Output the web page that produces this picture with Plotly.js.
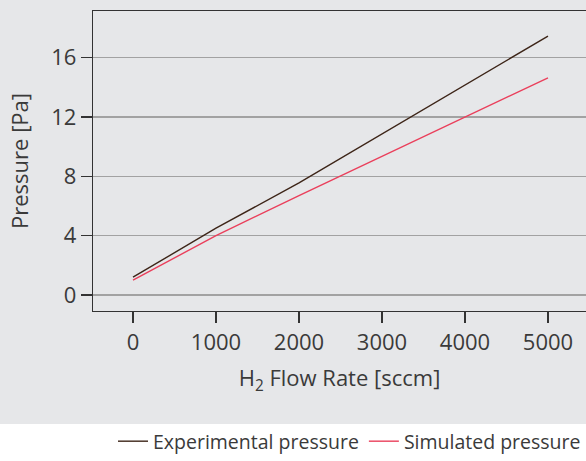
<!DOCTYPE html>
<html><head><meta charset="utf-8">
<script src="https://cdn.plot.ly/plotly-3.0.1.min.js"></script>
<style>html,body{margin:0;padding:0;background:#e6e7e9;}#c{width:586px;height:461px;}</style>
</head><body><div id="c"></div>
<script>
const flowRate = [0, 1000, 2000, 3000, 4000, 5000];
const experimental = [1.2, 4.5, 7.55, 10.85, 14.15, 17.45];
const simulated = [1.0, 4.0, 6.7, 9.35, 12.0, 14.64];
const xTicks = [0, 1000, 2000, 3000, 4000, 5000];
const yTicks = [0, 4, 8, 12, 16];

const fam = 'Open Sans, Noto Sans, sans-serif';
const font = {family: fam, size: 22, color: '#3a3a3a'};
const legFont = {family: fam, size: 19.5, color: '#3a3a3a'};
const xr = [-482, 5458], yr = [-1.08, 19.14];

const traces = [
  {x: flowRate, y: experimental, name: 'Experimental pressure', type: 'scatter', mode: 'lines',
   line: {color: '#3d2518', width: 1.4}},
  {x: flowRate, y: simulated, name: 'Simulated pressure', type: 'scatter', mode: 'lines',
   line: {color: '#ea3f5b', width: 1.4}}
];

const layout = {
  width: 586, height: 461,
  paper_bgcolor: '#e6e7e9', plot_bgcolor: '#e6e7e9',
  margin: {l: 93, r: 0, t: 11, b: 150},
  font: font,
  showlegend: true,
  legend: {orientation: 'h', x: 1, xanchor: 'right', y: -0.437, yanchor: 'middle',
           bgcolor: 'rgba(0,0,0,0)', font: legFont, itemwidth: 30, tracegroupgap: 0},
  xaxis: {range: xr, tickvals: xTicks, ticktext: xTicks.map(String), ticks: 'outside', ticklen: 11,
          tickwidth: 1.3, tickcolor: '#333', showline: true, linecolor: '#333', linewidth: 1.3,
          mirror: true, showgrid: false, zeroline: false, tickfont: font,
          title: {text: 'H<sub>2</sub> Flow Rate [sccm]', font: font, standoff: 16}},
  xaxis2: {range: xr, overlaying: 'x', anchor: 'y', side: 'bottom', tickvals: xTicks, ticks: 'inside',
           ticklen: 11, tickwidth: 1.3, tickcolor: '#333', showticklabels: false, showgrid: false,
           zeroline: false, showline: false},
  yaxis: {range: yr, tickvals: yTicks, ticktext: yTicks.map(String), ticks: 'outside', ticklen: 11,
          tickwidth: 1.3, tickcolor: '#333', showline: true, linecolor: '#333', linewidth: 1.3,
          showgrid: true, gridcolor: '#a2a2a2', gridwidth: 1.4, zeroline: false, tickfont: font,
          title: {text: 'Pressure [Pa]', font: font, standoff: 16}},
  yaxis2: {range: yr, overlaying: 'y', anchor: 'x', side: 'left', tickvals: yTicks, ticks: 'inside',
           ticklen: 11, tickwidth: 1.3, tickcolor: '#333', showticklabels: false, showgrid: false,
           zeroline: false, showline: false},
  shapes: [{type: 'rect', xref: 'paper', yref: 'paper', x0: -0.19, x1: 1.0, y0: -0.5, y1: -0.377,
            fillcolor: '#ffffff', line: {width: 0}, layer: 'below'}]
};

Plotly.newPlot('c', traces, layout, {staticPlot: true, displayModeBar: false});
</script></body></html>
